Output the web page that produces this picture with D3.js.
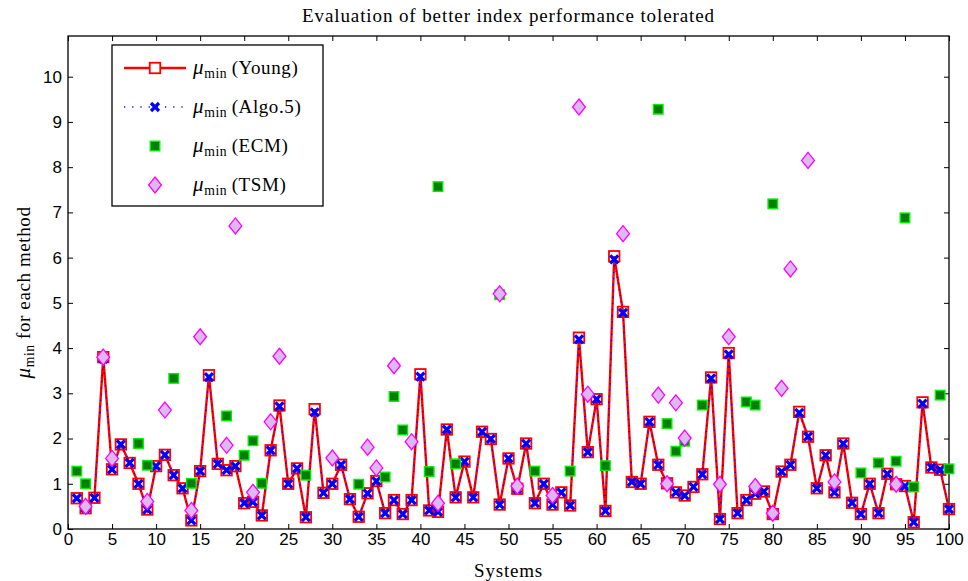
<!DOCTYPE html>
<html>
<head>
<meta charset="utf-8">
<script src="https://cdn.jsdelivr.net/npm/d3@7"></script>
<style>
  body { margin: 0; background: #fff; }
  .tick text { font-family: "Liberation Sans", Arial, sans-serif; font-size: 17px; }
  .serif { font-family: "Liberation Serif", "DejaVu Serif", serif; }
</style>
</head>
<body>
<svg id="chart"></svg>
<script>
// systems 1..100
var systems = d3.range(1, 101);

var young = [0.68,0.46,0.69,3.80,1.32,1.87,1.46,1.00,0.43,1.39,
             1.64,1.19,0.90,0.19,1.28,3.40,1.44,1.30,1.39,0.57,
             0.60,0.30,1.74,2.73,1.00,1.34,0.26,2.65,0.80,1.00,
             1.42,0.66,0.27,0.79,1.06,0.35,0.64,0.33,0.64,3.42,
             0.41,0.38,2.20,0.70,1.49,0.70,2.15,1.99,0.54,1.56,
             0.89,1.89,0.57,1.00,0.54,0.81,0.52,4.23,1.70,2.87,
             0.40,6.03,4.80,1.04,1.00,2.37,1.42,1.01,0.81,0.74,
             0.93,1.21,3.35,0.22,3.89,0.35,0.64,0.78,0.83,0.33,
             1.27,1.42,2.59,2.04,0.90,1.63,0.81,1.89,0.58,0.33,
             1.00,0.35,1.22,0.99,0.95,0.15,2.80,1.36,1.31,0.44];

var algo5 = [0.68,0.46,0.69,3.76,1.32,1.87,1.46,1.00,0.43,1.39,
             1.64,1.19,0.90,0.19,1.28,3.36,1.44,1.30,1.39,0.57,
             0.60,0.30,1.74,2.71,1.00,1.34,0.26,2.58,0.80,1.00,
             1.42,0.66,0.27,0.79,1.06,0.35,0.64,0.33,0.64,3.37,
             0.41,0.38,2.20,0.70,1.49,0.70,2.15,1.99,0.54,1.56,
             0.89,1.89,0.57,1.00,0.54,0.81,0.52,4.19,1.70,2.87,
             0.40,5.96,4.78,1.04,1.00,2.37,1.42,1.01,0.81,0.74,
             0.93,1.21,3.33,0.22,3.86,0.35,0.64,0.78,0.83,0.33,
             1.27,1.42,2.57,2.04,0.90,1.63,0.81,1.89,0.58,0.33,
             1.00,0.35,1.22,0.99,0.95,0.15,2.77,1.36,1.31,0.44];

// only the visible ECM / TSM points: [system, value]
var ecm = [[1,1.28],[2,1.00],[8,1.89],[9,1.41],[12,3.33],[14,1.01],[18,2.50],[20,1.63],
           [21,1.95],[22,1.01],[27,1.19],[33,0.99],[36,1.15],[37,2.93],[38,2.19],[41,1.27],
           [42,7.57],[44,1.44],[49,5.18],[53,1.28],[57,1.28],[61,1.40],[67,9.28],[68,2.33],
           [69,1.72],[70,1.94],[72,2.74],[77,2.81],[78,2.74],[80,7.19],[90,1.24],[92,1.46],
           [94,1.50],[95,6.88],[96,0.93],[99,2.96],[100,1.33]];

var tsm = [[2,0.50],[4,3.80],[5,1.56],[9,0.61],[11,2.63],[14,0.41],[15,4.25],[18,1.85],
           [19,6.70],[21,0.81],[23,2.37],[24,3.82],[30,1.57],[34,1.81],[35,1.35],[37,3.61],
           [39,1.93],[42,0.57],[49,5.20],[51,0.95],[55,0.74],[58,9.33],[59,2.98],[63,6.53],
           [67,2.96],[68,1.00],[69,2.79],[70,2.01],[74,0.99],[75,4.25],[78,0.94],[80,0.35],
           [81,3.11],[82,5.75],[84,8.15],[87,1.04],[94,0.99]];

var xTicks = d3.range(0, 101, 5);
var yTicks = d3.range(0, 11, 1);

var width = 968, height = 581;
var mLeft = 68, mRight = 949, mTop = 36, mBottom = 529;

var svg = d3.select('#chart').attr('width', width).attr('height', height);

var x = d3.scaleLinear().domain([0, 100]).range([mLeft, mRight]);
var y = d3.scaleLinear().domain([0, 10.9]).range([mBottom, mTop]);

// axes (ticks inward, on all four sides)
svg.append('g').attr('transform', `translate(0,${mBottom})`)
  .call(d3.axisBottom(x).tickValues(xTicks).tickSizeInner(-5).tickSizeOuter(0).tickPadding(4))
  .call(g => g.select('.domain').remove());
svg.append('g').attr('transform', `translate(0,${mTop})`)
  .call(d3.axisTop(x).tickValues(xTicks).tickSizeInner(-5).tickSizeOuter(0).tickFormat(''))
  .call(g => g.select('.domain').remove());
svg.append('g').attr('transform', `translate(${mLeft},0)`)
  .call(d3.axisLeft(y).tickValues(yTicks).tickSizeInner(-5).tickSizeOuter(0).tickPadding(6))
  .call(g => g.select('.domain').remove());
svg.append('g').attr('transform', `translate(${mRight},0)`)
  .call(d3.axisRight(y).tickValues(yTicks).tickSizeInner(-5).tickSizeOuter(0).tickFormat(''))
  .call(g => g.select('.domain').remove());
svg.selectAll('.tick line').attr('stroke', '#000');

svg.append('rect')
  .attr('x', mLeft).attr('y', mTop)
  .attr('width', mRight - mLeft).attr('height', mBottom - mTop)
  .attr('fill', 'none').attr('stroke', '#000').attr('stroke-width', 1.3);

var plot = svg.append('g');

// marker helpers
function square(g, cx, cy, s, fill, stroke, sw) {
  g.append('rect').attr('x', cx - s / 2).attr('y', cy - s / 2)
    .attr('width', s).attr('height', s)
    .attr('fill', fill).attr('stroke', stroke).attr('stroke-width', sw);
}
function cross(g, cx, cy, s) {
  g.append('path')
    .attr('d', `M${cx - s},${cy - s}L${cx + s},${cy + s}M${cx - s},${cy + s}L${cx + s},${cy - s}`)
    .attr('stroke', '#0000ff').attr('stroke-width', 3.2).attr('fill', 'none');
}
function diamond(g, cx, cy, s) {
  g.append('path')
    .attr('d', `M${cx},${cy - s}L${cx + s * 0.8},${cy}L${cx},${cy + s}L${cx - s * 0.8},${cy}Z`)
    .attr('fill', '#dcb8f5').attr('stroke', '#ff00ff').attr('stroke-width', 1.3);
}

// Young: red line + open squares
var line = d3.line().x((d, i) => x(systems[i])).y(d => y(d));
plot.append('path').datum(young).attr('d', line)
  .attr('fill', 'none').attr('stroke', '#ff0000').attr('stroke-width', 2.4);
young.forEach((d, i) => square(plot, x(systems[i]), y(d), 10.5, 'none', '#ff0000', 1.8));

// Algo.5: blue dotted line + x markers
plot.append('path').datum(algo5).attr('d', line)
  .attr('fill', 'none').attr('stroke', '#0000ff').attr('stroke-width', 1.3)
  .attr('stroke-dasharray', '1.2,5');
algo5.forEach((d, i) => cross(plot, x(systems[i]), y(d), 4));

// ECM
ecm.forEach(d => square(plot, x(d[0]), y(d[1]), 9.5, '#007f00', '#00ee00', 1.4));

// TSM
tsm.forEach(d => diamond(plot, x(d[0]), y(d[1]), 8));

// title and axis labels
svg.append('text').attr('class', 'serif')
  .attr('x', (mLeft + mRight) / 2).attr('y', 22)
  .attr('text-anchor', 'middle').attr('font-size', 19).attr('letter-spacing', 0.9)
  .text('Evaluation of better index performance tolerated');

svg.append('text').attr('class', 'serif')
  .attr('x', (mLeft + mRight) / 2).attr('y', 577)
  .attr('text-anchor', 'middle').attr('font-size', 19).attr('letter-spacing', 0.8)
  .text('Systems');

function muLabel(sel, size, suffix) {
  sel.attr('letter-spacing', 0.6);
  sel.append('tspan').attr('font-style', 'italic').attr('font-size', size + 2).text('μ');
  sel.append('tspan').attr('font-size', size * 0.72).attr('dy', 4).text('min');
  sel.append('tspan').attr('font-size', size).attr('dy', -4).text(suffix);
}

var yl = svg.append('text').attr('class', 'serif')
  .attr('transform', `translate(30,${(mTop + mBottom) / 2 + 10}) rotate(-90)`)
  .attr('text-anchor', 'middle');
muLabel(yl, 19, '\u00a0for each method');

// legend
var lg = svg.append('g');
lg.append('rect').attr('x', 112).attr('y', 45).attr('width', 211).attr('height', 161)
  .attr('fill', '#fff').attr('stroke', '#000').attr('stroke-width', 1.3);

var legendItems = ['\u2009(Young)', '\u2009(Algo.5)', '\u2009(ECM)', '\u2009(TSM)'];
var legendY = [68, 107, 146, 185];
var mx = 155;

lg.append('line').attr('x1', 124).attr('x2', 186).attr('y1', legendY[0]).attr('y2', legendY[0])
  .attr('stroke', '#ff0000').attr('stroke-width', 2.4);
square(lg, mx, legendY[0], 10.5, '#fff', '#ff0000', 1.8);

lg.append('line').attr('x1', 124).attr('x2', 186).attr('y1', legendY[1]).attr('y2', legendY[1])
  .attr('stroke', '#0000ff').attr('stroke-width', 1.3).attr('stroke-dasharray', '1.2,7');
cross(lg, mx, legendY[1], 4);

square(lg, mx, legendY[2], 9.5, '#007f00', '#00ee00', 1.4);
diamond(lg, mx, legendY[3], 8);

legendItems.forEach(function(t, i) {
  var tx = lg.append('text').attr('class', 'serif')
    .attr('x', 193).attr('y', legendY[i] + 6);
  muLabel(tx, 19, t);
});
</script>
</body>
</html>
